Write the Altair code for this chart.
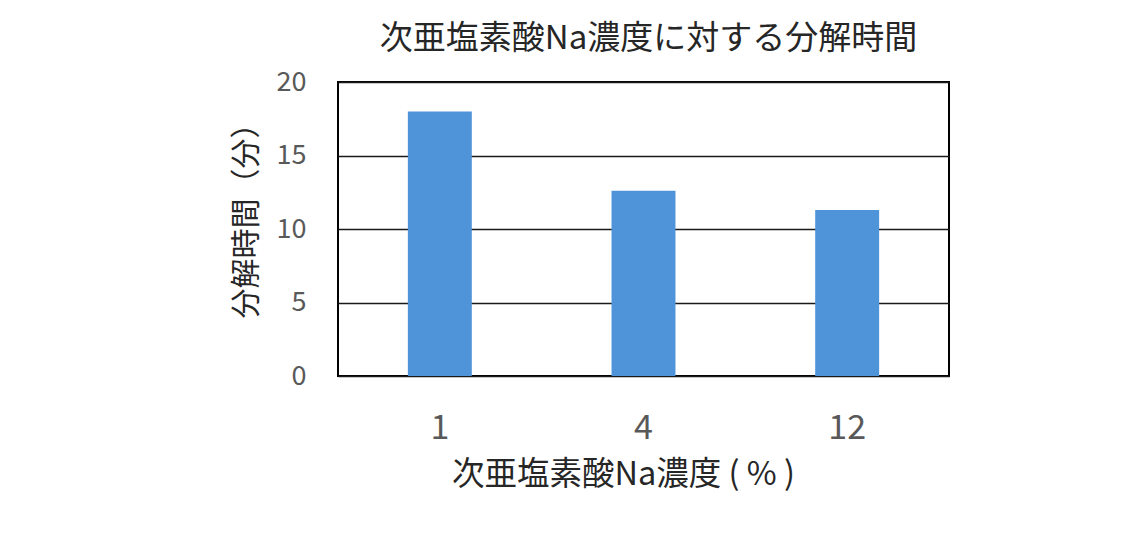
import altair as alt
import pandas as pd

concentrations = ["1", "4", "12"]
minutes = [18.0, 12.6, 11.3]
y_ticks = [0, 5, 10, 15, 20]

df = pd.DataFrame({"conc": concentrations, "time": minutes})

FONT = "Noto Sans CJK JP"

chart = alt.Chart(df).mark_bar(color="#4f94d9").encode(
    x=alt.X(
        "conc:N",
        sort=concentrations,
        scale=alt.Scale(paddingInner=0.686, paddingOuter=0.343),
        axis=alt.Axis(
            title="次亜塩素酸Na濃度 ( % )",
            labelAngle=0,
            labelFontSize=34,
            labelColor="#595959",
            labelFont=FONT,
            labelPadding=35,
            ticks=False,
            domain=False,
            titleFontSize=32.5,
            titleFont=FONT,
            titleFontWeight="normal",
            titleColor="#262626",
            titlePadding=13,
            titleX=285,
        ),
    ),
    y=alt.Y(
        "time:Q",
        scale=alt.Scale(domain=[0, 20]),
        axis=alt.Axis(
            title="分解時間（分）",
            values=y_ticks,
            labelFontSize=27,
            labelColor="#595959",
            labelFont=FONT,
            labelPadding=32,
            ticks=False,
            domain=False,
            grid=True,
            gridColor="#1a1a1a",
            gridWidth=1.6,
            titleFontSize=30,
            titleFont=FONT,
            titleFontWeight="normal",
            titleColor="#262626",
            titlePadding=15,
            titleY=131,
        ),
    ),
).properties(
    width=611,
    height=294,
    title=alt.TitleParams(
        "次亜塩素酸Na濃度に対する分解時間",
        font=FONT,
        fontSize=33,
        fontWeight="normal",
        color="#262626",
        anchor="middle",
        offset=12,
        dx=5,
    ),
    autosize=alt.AutoSizeParams(type="none"),
    padding={"left": 330, "top": 74, "right": 183, "bottom": 140},
).configure_view(
    stroke="#000000",
    strokeWidth=2,
)

chart.save("out.html", embed_options={"renderer": "svg", "actions": False})
